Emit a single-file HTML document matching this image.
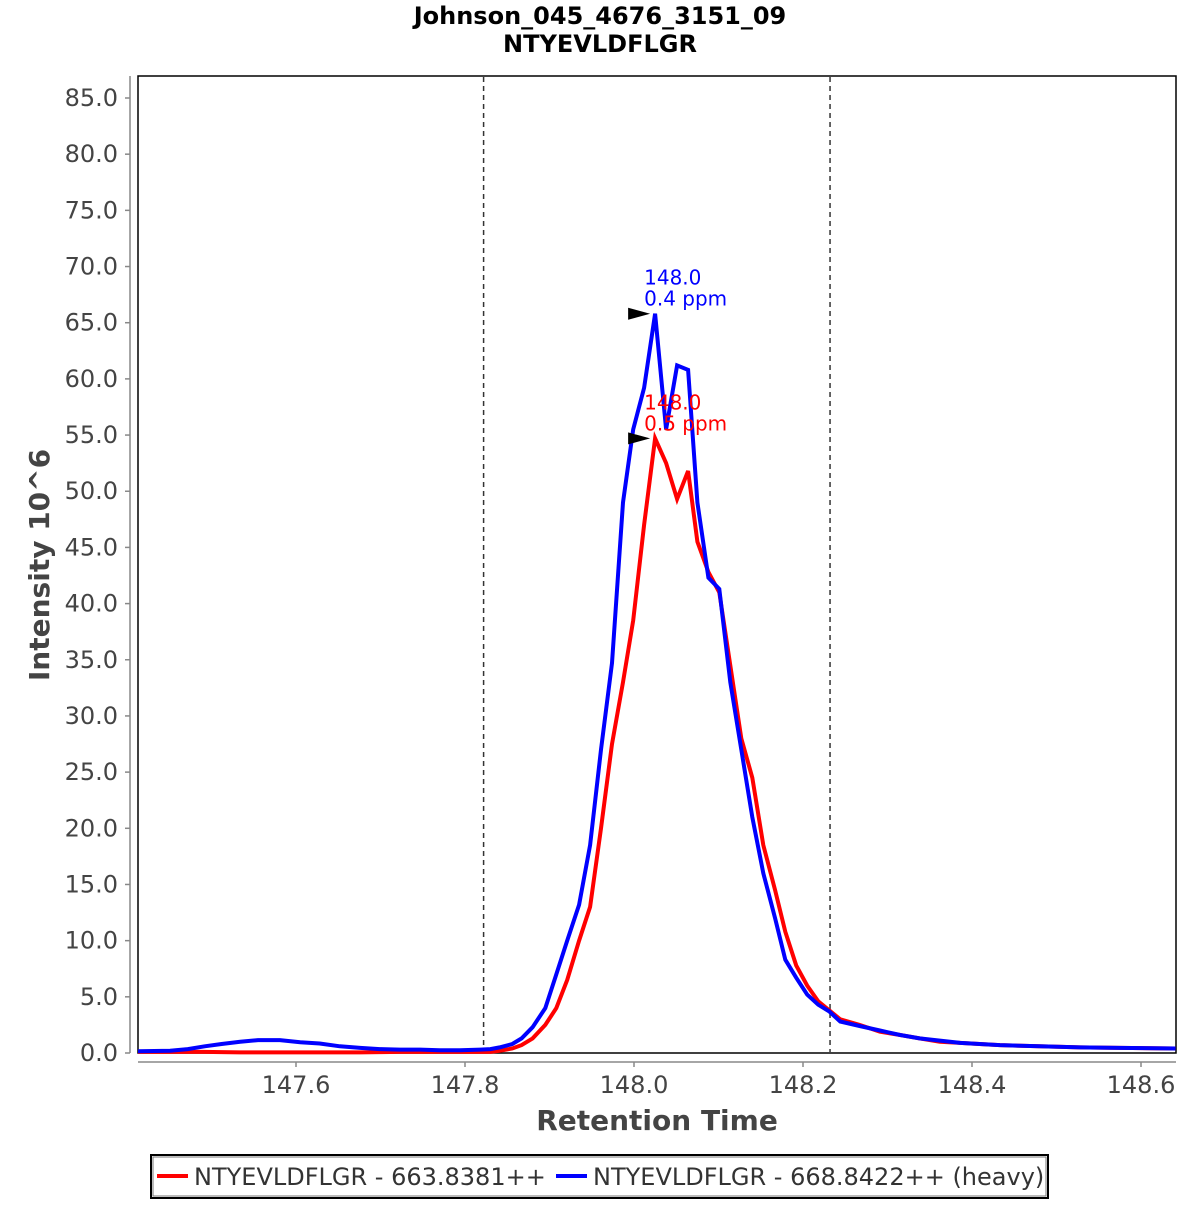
<!DOCTYPE html>
<html><head><meta charset="utf-8"><style>
body{margin:0;background:#fff;}
svg text{font-family:"DejaVu Sans","Liberation Sans",sans-serif;}
</style></head><body>
<svg id="chart" width="1200" height="1200" xmlns="http://www.w3.org/2000/svg">
<rect width="1200" height="1200" fill="#fff"/>
<text x="600" y="24" text-anchor="middle" font-size="24" font-weight="bold">Johnson_045_4676_3151_09</text>
<text x="600" y="52" text-anchor="middle" font-size="24" font-weight="bold">NTYEVLDFLGR</text>
<rect x="138" y="76" width="1038" height="977" fill="#fff" stroke="#000" stroke-width="1.5"/>
<g id="yaxis"></g>
<g id="xaxis"></g>
<g id="marks"></g>
<text transform="translate(49,565) rotate(-90)" text-anchor="middle" font-size="28" font-weight="bold" fill="#444">Intensity 10^6</text>
<text x="657" y="1130" text-anchor="middle" font-size="28" font-weight="bold" fill="#444">Retention Time</text>
<g>
<rect x="151" y="1155" width="897" height="43" fill="#fff" stroke="#000" stroke-width="2"/>
<rect x="153" y="1157" width="893" height="39" fill="none" stroke="#777" stroke-width="1"/>
<line x1="157" y1="1176" x2="188" y2="1176" stroke="#f00" stroke-width="4"/>
<text x="194" y="1185" font-size="24" fill="#333">NTYEVLDFLGR - 663.8381++</text>
<line x1="556" y1="1176" x2="587" y2="1176" stroke="#00f" stroke-width="4"/>
<text x="593" y="1185" font-size="24" fill="#333">NTYEVLDFLGR - 668.8422++ (heavy)</text>
</g>
</svg>
<script>
const times=[147.413,147.451,147.472,147.492,147.512,147.534,147.555,147.581,147.605,147.628,147.652,147.676,147.699,147.723,147.747,147.770,147.794,147.818,147.830,147.841,147.856,147.867,147.880,147.895,147.908,147.921,147.935,147.948,147.961,147.974,147.987,147.999,148.012,148.025,148.038,148.051,148.064,148.075,148.088,148.101,148.114,148.127,148.140,148.153,148.167,148.179,148.192,148.205,148.218,148.231,148.244,148.267,148.291,148.315,148.338,148.362,148.386,148.409,148.433,148.480,148.528,148.575,148.641];
const heavyValues=[0.15,0.2,0.35,0.6,0.8,1.0,1.15,1.15,0.95,0.85,0.6,0.45,0.35,0.3,0.3,0.25,0.25,0.3,0.35,0.5,0.8,1.3,2.3,4.0,7.0,10.0,13.2,18.5,27.0,34.7,49.0,55.5,59.2,65.8,55.5,61.2,60.8,49.0,42.3,41.3,33.0,27.0,21.0,16.0,12.0,8.3,6.7,5.2,4.3,3.7,2.8,2.4,2.0,1.6,1.3,1.1,0.9,0.8,0.7,0.6,0.5,0.45,0.4];
const lightValues=[0.1,0.1,0.1,0.1,0.08,0.05,0.05,0.05,0.05,0.05,0.05,0.05,0.08,0.1,0.1,0.1,0.1,0.1,0.1,0.2,0.4,0.7,1.3,2.5,4.0,6.5,10.0,13.0,20.0,27.5,33.0,38.5,47.0,54.7,52.5,49.3,51.8,45.5,42.8,41.0,34.5,28.0,24.5,18.5,14.5,10.8,7.8,6.0,4.6,3.8,3.0,2.5,1.9,1.6,1.3,1.0,0.9,0.8,0.7,0.6,0.5,0.45,0.4];
const yTicks=[0,5,10,15,20,25,30,35,40,45,50,55,60,65,70,75,80,85];
const xTicks=[147.6,147.8,148.0,148.2,148.4,148.6];
const boundaries=[147.822,148.232];
const peakLabels=[{t:148.025,v:65.8,rt:"148.0",ppm:"0.4 ppm",c:"#00f"},{t:148.025,v:54.7,rt:"148.0",ppm:"0.5 ppm",c:"#f00"}];
const X=t=>296+(t-147.6)*845;
const Y=v=>1053-v*(955/85);
const NS="http://www.w3.org/2000/svg";
function mk(tag,attrs,parent,txt){const e=document.createElementNS(NS,tag);for(const k in attrs)e.setAttribute(k,attrs[k]);if(txt!==undefined)e.textContent=txt;parent.appendChild(e);return e;}
const ya=document.getElementById('yaxis'),xa=document.getElementById('xaxis'),mg=document.getElementById('marks');
mk('line',{x1:130,y1:76,x2:130,y2:1053,stroke:'#888','stroke-width':1.5},ya);
yTicks.forEach(v=>{
  const l=mk('line',{x1:125,y1:Y(v),x2:130,y2:Y(v),stroke:'#888','stroke-width':1.5},ya);
  
  
  const t=mk('text',{x:118,y:Y(v)+8,'text-anchor':'end','font-size':24,fill:'#444'},ya,v.toFixed(1));
  
  
});
mk('line',{x1:138,y1:1062,x2:1176,y2:1062,stroke:'#888','stroke-width':1.5},xa);
xTicks.forEach(v=>{
  const l=mk('line',{x1:X(v),y1:1062,x2:X(v),y2:1067,stroke:'#888','stroke-width':1.5},xa);
  
  
  const t=mk('text',{x:X(v),y:1093,'text-anchor':'middle','font-size':24,fill:'#444'},xa,v.toFixed(1));
  
  
});
boundaries.forEach(b=>{
  const l=mk('line',{x1:X(b),y1:77,x2:X(b),y2:1052,stroke:'#333','stroke-width':1.5,'stroke-dasharray':'5,4'},mg);
  
  
});
function series(vals,color,name){
  const d=vals.map((v,i)=>(i?'L':'M')+X(times[i]).toFixed(1)+','+Y(v).toFixed(1)).join(' ');
  const p=mk('path',{d:d,fill:'none',stroke:color,'stroke-width':4,'stroke-linejoin':'miter'},mg);
  
  
}
series(lightValues,'#f00','light-series-line');
series(heavyValues,'#00f','heavy-series-line');
peakLabels.forEach(p=>{
  const x=X(p.t),y=Y(p.v);
  const a=mk('polygon',{points:`${x-5},${y} ${x-27},${y-6} ${x-27},${y+6}`,fill:'#000'},mg);
  
  
  const t1=mk('text',{x:x-11,y:y-29,'font-size':20,fill:p.c},mg,p.rt);
  
  
  const t2=mk('text',{x:x-11,y:y-8,'font-size':20,fill:p.c},mg,p.ppm);
  
  
});
</script>
</body></html>
